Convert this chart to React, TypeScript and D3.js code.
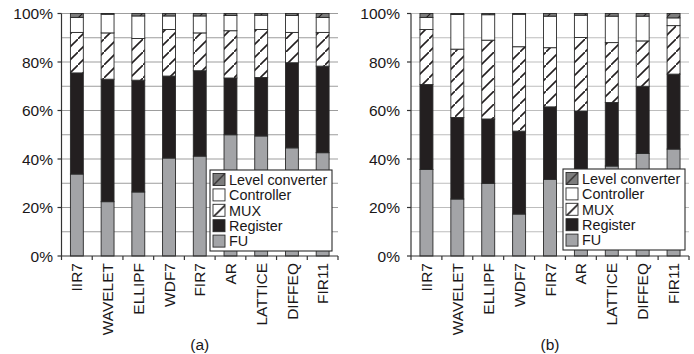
import React from "react";
import * as d3 from "d3";

const categories = ["IIR7", "WAVELET", "ELLIPF", "WDF7", "FIR7", "AR", "LATTICE", "DIFFEQ", "FIR11"];
const seriesNames = ["FU", "Register", "MUX", "Controller", "Level converter"];
const legendOrder = ["Level converter", "Controller", "MUX", "Register", "FU"];
const yTicks = [0, 20, 40, 60, 80, 100];
const gridTicks = [10, 20, 30, 40, 50, 60, 70, 80, 90, 100];

// Panel (a)
const aFU = [33.8, 22.4, 26.4, 40.4, 41.2, 50.0, 49.5, 44.6, 42.6];
const aRegister = [41.7, 50.5, 46.1, 33.8, 35.2, 23.4, 24.1, 35.1, 35.7];
const aMUX = [16.7, 19.1, 17.2, 19.2, 15.6, 19.5, 19.8, 12.5, 13.9];
const aController = [6.2, 7.7, 9.3, 5.6, 7.0, 6.3, 5.9, 7.0, 6.2];
const aLevel = [1.6, 0.3, 1.0, 1.0, 1.0, 0.8, 0.7, 0.8, 1.6];

// Panel (b)
const bFU = [35.7, 23.5, 29.9, 17.3, 31.6, 30.0, 37.1, 42.3, 44.1];
const bRegister = [35.0, 33.6, 26.6, 34.2, 29.9, 29.8, 26.2, 27.7, 30.9];
const bMUX = [22.7, 28.2, 32.5, 34.8, 24.4, 30.3, 24.7, 18.7, 20.0];
const bController = [5.0, 14.3, 10.5, 13.4, 13.0, 9.2, 10.9, 10.2, 3.2];
const bLevel = [1.6, 0.4, 0.5, 0.3, 1.1, 0.7, 1.1, 1.1, 1.8];

const FONT = "'Liberation Sans', Arial, Helvetica, sans-serif";
const TEXT = "#1a1718";

const fills: Record<string, string> = {
  FU: "#a3a4a7",
  Register: "#231f20",
  MUX: "url(#hatchMux)",
  Controller: "#ffffff",
  "Level converter": "url(#hatchLevel)",
};

function Panel({
  x0, x1, label, labelRight, grid, legendX, legendY, series,
}: {
  x0: number; x1: number; label: string; labelRight: number; grid: string;
  legendX: number; legendY: number; series: number[][];
}) {
  const yTop = 13.5;
  const yBot = 256;
  const x = d3.scaleBand<string>().domain(categories).range([x0, x1]).padding(0);
  const y = d3.scaleLinear().domain([0, 100]).range([yBot, yTop]);
  const bw = x.bandwidth() * 0.42;

  const rows = categories.map((c, i) => {
    const o: Record<string, any> = { cat: c };
    seriesNames.forEach((s, k) => (o[s] = series[k][i]));
    return o;
  });
  const stacked = d3.stack<Record<string, any>>().keys(seriesNames)(rows);

  const boundaries = d3.range(categories.length + 1).map((i) => x0 + i * x.bandwidth());

  return (
    <g>
      {gridTicks.map((t) => (
        <line key={"g" + t} x1={x0} x2={x1} y1={y(t)} y2={y(t)} stroke={grid} strokeWidth={1} />
      ))}
      {stacked.map((layer) => (
        <g key={layer.key}>
          {layer.map((d, i) => {
            const cx = (x(categories[i]) as number) + x.bandwidth() / 2;
            const yt = y(Math.min(d[1], 100));
            const yb = y(d[0]);
            return (
              <rect
                key={i}
                x={cx - bw / 2}
                y={yt}
                width={bw}
                height={Math.max(0, yb - yt)}
                fill={fills[layer.key]}
                stroke="#2a2a2a"
                strokeWidth={0.9}
              />
            );
          })}
        </g>
      ))}
      {/* axes */}
      <line x1={x0} x2={x0} y1={yTop} y2={yBot} stroke="#333" strokeWidth={1.2} />
      <line x1={x0} x2={x1} y1={yBot} y2={yBot} stroke="#333" strokeWidth={1.2} />
      {boundaries.map((b, i) => (
        <line key={"xt" + i} x1={b} x2={b} y1={yBot} y2={yBot + 4} stroke="#333" strokeWidth={1.2} />
      ))}
      {yTicks.map((t) => (
        <line key={"yt" + t} x1={x0 - 4} x2={x0} y1={y(t)} y2={y(t)} stroke="#333" strokeWidth={1.2} />
      ))}
      {yTicks.map((t) => (
        <text
          key={"yl" + t}
          x={labelRight}
          y={y(t)}
          dy="0.36em"
          textAnchor="end"
          fontFamily={FONT}
          fontSize={15.5}
          fill={TEXT}
        >
          {t + "%"}
        </text>
      ))}
      {categories.map((c) => {
        const cx = (x(c) as number) + x.bandwidth() / 2;
        return (
          <text
            key={"c" + c}
            transform={`translate(${cx + 5.6},${263}) rotate(-90)`}
            textAnchor="end"
            fontFamily={FONT}
            fontSize={15.5}
            fill={TEXT}
          >
            {c}
          </text>
        );
      })}
      <text x={(x0 + x1) / 2} y={350} textAnchor="middle" fontFamily={FONT} fontSize={15.5} fill={TEXT}>
        {label}
      </text>
      {/* legend */}
      <g transform={`translate(${legendX},${legendY})`}>
        <rect x={0} y={0} width={122} height={81} fill="#fff" stroke="#2a2a2a" strokeWidth={1.1} />
        {legendOrder.map((s, i) => (
          <g key={s} transform={`translate(3,${3.5 + i * 15.4})`}>
            <rect x={0} y={0} width={12} height={12} fill={fills[s]} stroke="#2a2a2a" strokeWidth={0.9} />
            <text x={16} y={11.3} fontFamily={FONT} fontSize={14.4} fill={TEXT}>
              {s}
            </text>
          </g>
        ))}
      </g>
    </g>
  );
}

export default function App() {
  return (
    <svg
      width={694}
      height={354}
      viewBox="0 0 694 354"
      style={{ position: "absolute", left: 0, top: 0, background: "#fff" }}
    >
      <defs>
        <pattern id="hatchMux" patternUnits="userSpaceOnUse" width={13} height={13}>
          <rect width={13} height={13} fill="#fff" />
          <path d="M-1,14 L14,-1" stroke="#231f20" strokeWidth={1.6} />
        </pattern>
        <pattern id="hatchLevel" patternUnits="userSpaceOnUse" width={12} height={12}>
          <rect width={12} height={12} fill="#7d7d7d" />
          <path d="M-1,13 L13,-1" stroke="#231f20" strokeWidth={1.2} />
        </pattern>
      </defs>
      <rect width={694} height={354} fill="#fff" />
      <Panel
        x0={61.5}
        x1={338}
        label="(a)"
        labelRight={53}
        grid="#9d9d9d"
        legendX={210}
        legendY={170}
        series={[aFU, aRegister, aMUX, aController, aLevel]}
      />
      <Panel
        x0={411}
        x1={689}
        label="(b)"
        labelRight={400}
        grid="#bdbdbd"
        legendX={563}
        legendY={169}
        series={[bFU, bRegister, bMUX, bController, bLevel]}
      />
    </svg>
  );
}
